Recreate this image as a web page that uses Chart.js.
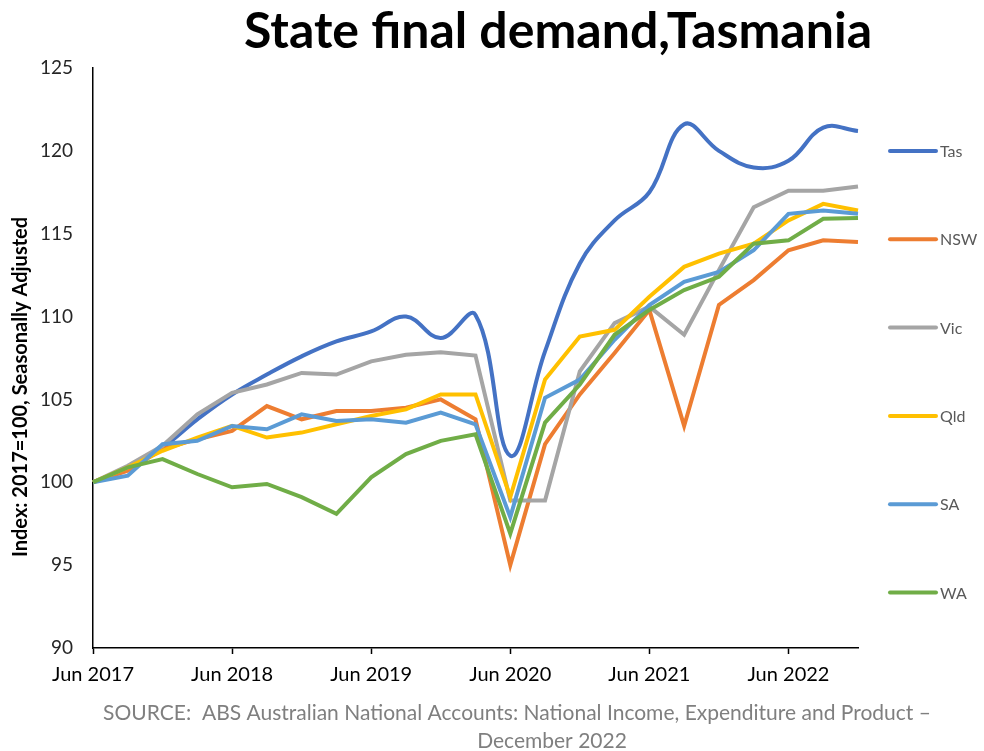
<!DOCTYPE html>
<html>
<head>
<meta charset="utf-8">
<script src="https://cdn.jsdelivr.net/npm/chart.js@4.4.1/dist/chart.umd.min.js"></script>
<style>
  html, body { margin: 0; padding: 0; background: #fff; }
  #wrap { width: 984px; height: 751px; position: relative; }
</style>
</head>
<body>
<div id="wrap"><canvas id="chart"></canvas></div>
<script>
// quarterly, Jun 2017 .. Dec 2022
const quarters = [
  'Jun 2017', 'Sep 2017', 'Dec 2017', 'Mar 2018',
  'Jun 2018', 'Sep 2018', 'Dec 2018', 'Mar 2019',
  'Jun 2019', 'Sep 2019', 'Dec 2019', 'Mar 2020',
  'Jun 2020', 'Sep 2020', 'Dec 2020', 'Mar 2021',
  'Jun 2021', 'Sep 2021', 'Dec 2021', 'Mar 2022',
  'Jun 2022', 'Sep 2022', 'Dec 2022'
];

const tas = [100, 100.9, 102.1, 103.8, 105.3, 106.5, 107.6, 108.5, 109.1, 110.0, 108.7, 110.1, 101.6, 107.9, 113.2, 115.8, 117.5, 121.6, 120.0, 119.0, 119.4, 121.4, 121.2];
const nsw = [100, 100.7, 102.0, 102.6, 103.1, 104.6, 103.8, 104.3, 104.3, 104.5, 105.0, 103.8, 95.0, 102.3, 105.3, 107.8, 110.4, 103.4, 110.7, 112.2, 114.0, 114.6, 114.5];
const vic = [100, 101.0, 102.2, 104.1, 105.4, 105.9, 106.6, 106.5, 107.3, 107.7, 107.85, 107.65, 98.9, 98.9, 106.7, 109.6, 110.6, 108.9, 112.8, 116.6, 117.6, 117.6, 117.85];
const qld = [100, 100.9, 101.9, 102.7, 103.4, 102.7, 103.0, 103.5, 104.0, 104.4, 105.3, 105.3, 99.1, 106.2, 108.8, 109.2, 111.2, 113.0, 113.8, 114.4, 115.8, 116.8, 116.4];
const sa  = [100, 100.4, 102.3, 102.5, 103.4, 103.2, 104.1, 103.7, 103.8, 103.6, 104.2, 103.5, 97.9, 105.1, 106.2, 108.6, 110.7, 112.1, 112.7, 114.0, 116.2, 116.4, 116.2];
const wa  = [100, 100.9, 101.4, 100.5, 99.7, 99.9, 99.1, 98.1, 100.3, 101.7, 102.5, 102.9, 96.9, 103.6, 105.9, 108.9, 110.4, 111.6, 112.4, 114.4, 114.6, 115.9, 115.95];

const seriesNames = ['Tas', 'NSW', 'Vic', 'Qld', 'SA', 'WA'];
const seriesValues = [tas, nsw, vic, qld, sa, wa];
const seriesColors = ['#4472C4', '#ED7D31', '#A5A5A5', '#FFC000', '#5B9BD5', '#70AD47'];

const yTicks = [90, 95, 100, 105, 110, 115, 120, 125];

const FONT = 'Lato, "Open Sans", sans-serif';

// title, axis title, legend and source note
const extras = {
  id: 'extras',
  afterDraw(chart) {
    const ctx = chart.ctx;
    ctx.save();

    ctx.fillStyle = '#000';
    ctx.font = 'bold 50px ' + FONT;
    ctx.textAlign = 'center';
    ctx.textBaseline = 'alphabetic';
    ctx.fillText('State final demand,Tasmania', 558, 48);

    ctx.save();
    ctx.translate(21, 387);
    ctx.rotate(-Math.PI / 2);
    ctx.font = 'bold 20px ' + FONT;
    ctx.textBaseline = 'middle';
    ctx.fillText('Index: 2017=100, Seasonally Adjusted', 0, 0);
    ctx.restore();

    chart.data.datasets.forEach((ds, i) => {
      const y = 151 + i * 88.3;
      ctx.strokeStyle = ds.borderColor;
      ctx.lineWidth = 4;
      ctx.lineCap = 'round';
      ctx.beginPath();
      ctx.moveTo(890, y);
      ctx.lineTo(936, y);
      ctx.stroke();
      ctx.fillStyle = '#595959';
      ctx.font = '16px ' + FONT;
      ctx.textAlign = 'left';
      ctx.textBaseline = 'middle';
      ctx.fillText(ds.label, 940, y + 1);
    });

    ctx.fillStyle = '#7f7f7f';
    ctx.font = '21px ' + FONT;
    ctx.textAlign = 'center';
    ctx.textBaseline = 'middle';
    ctx.fillText('SOURCE:  ABS Australian National Accounts: National Income, Expenditure and Product \u2013', 517, 713);
    ctx.fillText('December 2022', 552, 741);

    ctx.restore();
  }
};

new Chart(document.getElementById('chart'), {
  type: 'line',
  data: {
    labels: quarters,
    datasets: seriesNames.map((name, i) => ({
      label: name,
      data: seriesValues[i],
      borderColor: seriesColors[i],
      backgroundColor: seriesColors[i],
      borderWidth: 4,
      pointRadius: 0,
      fill: false,
      tension: name === 'Tas' ? 0.4 : 0,
      order: seriesNames.length - i
    }))
  },
  options: {
    responsive: true,
    maintainAspectRatio: false,
    animation: false,
    layout: { padding: { top: 68, right: 126, left: 0, bottom: 0 } },
    plugins: {
      legend: { display: false },
      tooltip: { enabled: false },
      title: { display: false }
    },
    scales: {
      x: {
        type: 'category',
        offset: false,
        afterFit: s => { s.height = 103; },
        border: { display: true, color: '#000', width: 1.5 },
        grid: {
          drawOnChartArea: false,
          drawTicks: true,
          tickLength: 6,
          tickColor: c => (c.index % 4 === 0 ? '#000' : 'rgba(0,0,0,0)'),
          tickWidth: 1.5
        },
        ticks: {
          autoSkip: false,
          maxRotation: 0,
          padding: 9,
          color: '#000',
          font: { family: FONT, size: 20 },
          callback: (v, i) => (i % 4 === 0 ? quarters[i] : '')
        }
      },
      y: {
        min: yTicks[0],
        max: yTicks[yTicks.length - 1],
        afterFit: s => { s.width = 93; },
        afterBuildTicks: s => { s.ticks = yTicks.map(v => ({ value: v })); },
        border: { display: true, color: '#000', width: 1.5 },
        grid: { drawOnChartArea: false, drawTicks: false },
        ticks: {
          padding: 20,
          color: '#262626',
          font: { family: FONT, size: 19 }
        }
      }
    }
  },
  plugins: [extras]
});
</script>
</body>
</html>
